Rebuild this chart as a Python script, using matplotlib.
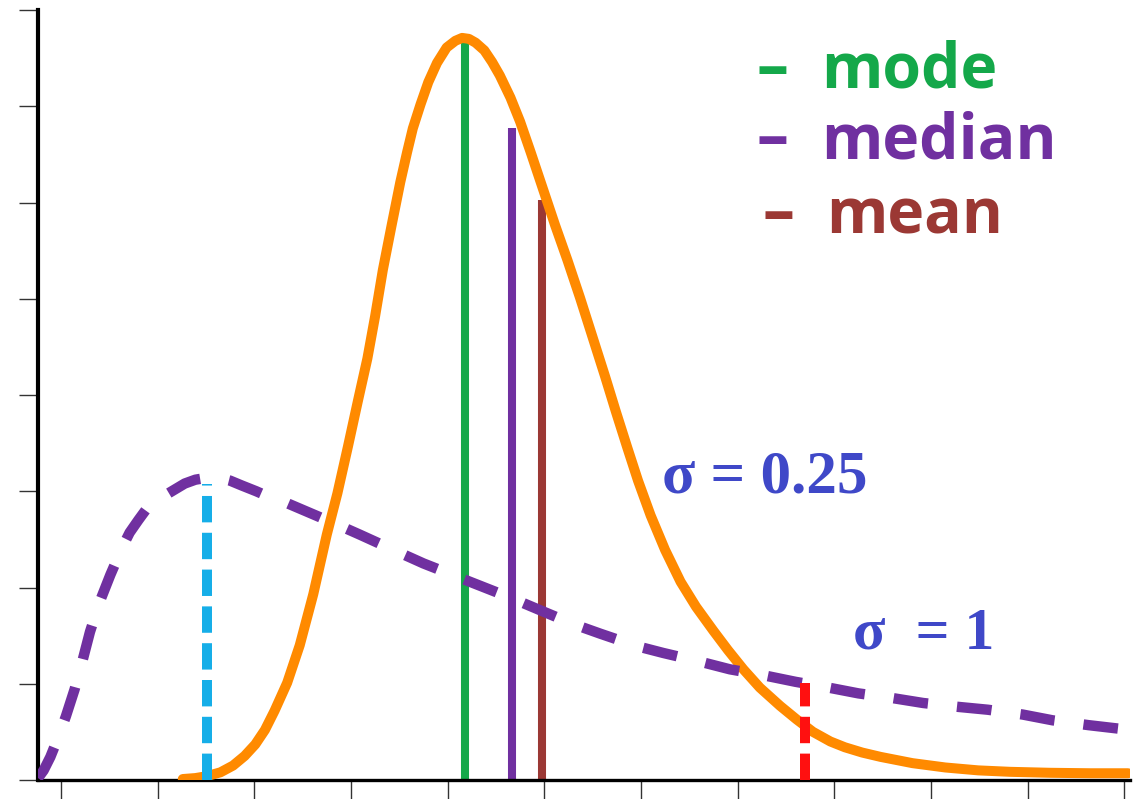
import matplotlib
matplotlib.use("Agg")
import matplotlib.pyplot as plt

# lognormal sketch, values (tick units)
# sigma = 0.25 curve (solid orange)
narrow_x = [1.26, 1.39, 1.51, 1.65, 1.78, 1.90, 2.01, 2.11, 2.21, 2.34, 2.47, 2.61, 2.75,
            2.86, 2.97, 3.07, 3.17, 3.25, 3.33, 3.42, 3.51, 3.58, 3.64, 3.72, 3.80, 3.89,
            3.99, 4.08, 4.15, 4.22, 4.29, 4.38, 4.46, 4.54, 4.65, 4.75, 4.86, 4.99, 5.11,
            5.24, 5.37, 5.50, 5.63, 5.74, 5.86, 5.97, 6.10, 6.25, 6.41, 6.57, 6.75, 6.90,
            7.06, 7.23, 7.44, 7.61, 7.78, 7.96, 8.11, 8.29, 8.48, 8.81, 9.15, 9.49, 9.82,
            10.23, 10.65, 11.04]
narrow_y = [0.01, 0.02, 0.04, 0.08, 0.15, 0.25, 0.37, 0.52, 0.72, 1.01, 1.40, 1.93, 2.55,
            2.98, 3.47, 3.93, 4.38, 4.82, 5.30, 5.76, 6.21, 6.52, 6.77, 7.02, 7.25, 7.45,
            7.61, 7.68, 7.71, 7.70, 7.66, 7.58, 7.46, 7.32, 7.09, 6.84, 6.52, 6.13, 5.77,
            5.40, 5.01, 4.60, 4.19, 3.83, 3.45, 3.11, 2.75, 2.39, 2.06, 1.80, 1.55, 1.35,
            1.15, 0.96, 0.77, 0.63, 0.50, 0.40, 0.34, 0.285, 0.24, 0.175, 0.13, 0.10, 0.085,
            0.075, 0.07, 0.07]

# sigma = 1 curve (dashed purple)
wide_x = [-0.238, -0.18, -0.11, -0.03, 0.05, 0.14, 0.22, 0.30, 0.40, 0.51, 0.63, 0.71,
          0.80, 0.88, 0.97, 1.08, 1.18, 1.28, 1.39, 1.51, 1.63, 1.75, 1.87, 2.02, 2.18,
          2.33, 2.47, 2.82, 3.09, 3.44, 3.75, 4.23, 4.66, 4.99, 5.30, 5.58, 5.96, 6.23,
          6.61, 6.92, 7.26, 7.60, 7.94, 8.25, 8.61, 8.92, 9.28, 9.59, 9.95, 10.26, 10.63,
          11.06]
wide_y = [0.02, 0.10, 0.24, 0.44, 0.66, 0.94, 1.23, 1.54, 1.85, 2.13, 2.41, 2.57,
          2.70, 2.81, 2.89, 2.96, 3.02, 3.08, 3.12, 3.14, 3.14, 3.11, 3.06, 3.00, 2.93,
          2.88, 2.82, 2.67, 2.55, 2.39, 2.25, 2.06, 1.89, 1.75, 1.62, 1.52, 1.39, 1.32,
          1.23, 1.15, 1.09, 1.02, 0.96, 0.90, 0.85, 0.80, 0.76, 0.73, 0.68, 0.62, 0.57,
          0.52]

# mode / median / mean of the narrow curve: (x, top)
stat_names = ["mode", "median", "mean"]
stat_x = [4.18, 4.67, 4.98]
stat_top = [7.66, 6.77, 6.03]
stat_colors = ["#14A84A", "#7030A0", "#9B3834"]

# markers on the wide curve
wide_mode = (1.51, 3.08)
wide_mark = (7.70, 1.01)

plt.rcParams['lines.scale_dashes'] = False

fig = plt.figure(figsize=(11.45, 7.99), dpi=100)
ax = fig.add_axes([38 / 1145, 19 / 799, 1092 / 1145, 770 / 799])

for xv, top, c in zip(stat_x, stat_top, stat_colors):
    ax.plot([xv, xv], [0, top], color=c, lw=5.8, solid_capstyle='butt', zorder=2)

ax.plot(narrow_x, narrow_y, color="#FF8A00", lw=7.2, solid_joinstyle='round',
        solid_capstyle='round', zorder=3)
ax.plot(wide_x, wide_y, color="#7030A0", lw=7.5, dashes=(25, 21),
        dash_capstyle='butt', zorder=4)

ax.plot([wide_mode[0]] * 2, [0, wide_mode[1]], color="#16AEE8", lw=7.2,
        dashes=(19, 7.5), dash_capstyle='butt', zorder=5)
ax.plot([wide_mark[0]] * 2, [0, wide_mark[1]], color="#FF1010", lw=7.2,
        dashes=(19, 7.5), dash_capstyle='butt', zorder=5)

# legend-like labels
label_x = [7.20, 7.20, 7.26]
label_y = [7.19, 6.46, 5.68]
for name, c, lx, ly in zip(stat_names, stat_colors, label_x, label_y):
    ax.text(lx, ly, "–", color=c, fontsize=46, family="Open Sans", weight="bold",
            va="baseline")
    ax.text(lx + 0.66, ly, name, color=c, fontsize=45, family="Open Sans",
            weight="bold", va="baseline")

ax.text(6.22, 2.99, "σ = 0.25", color="#3F48C8", fontsize=44, family="Liberation Serif",
        weight="bold", va="baseline")
ax.text(8.19, 1.37, "σ  = 1", color="#3F48C8", fontsize=43, family="Liberation Serif",
        weight="bold", va="baseline")

ax.set_xlim(-0.238, 11.06)
ax.set_ylim(0, 8)
ax.set_xticks(range(12))
ax.set_yticks(range(9))
ax.tick_params(direction='out', length=14, width=1.0, color="#333333",
               labelbottom=False, labelleft=False)
for s in ["top", "right"]:
    ax.spines[s].set_visible(False)
ax.spines["left"].set_linewidth(3.0)
ax.spines["bottom"].set_linewidth(2.4)

fig.savefig("out.png", dpi=100)
